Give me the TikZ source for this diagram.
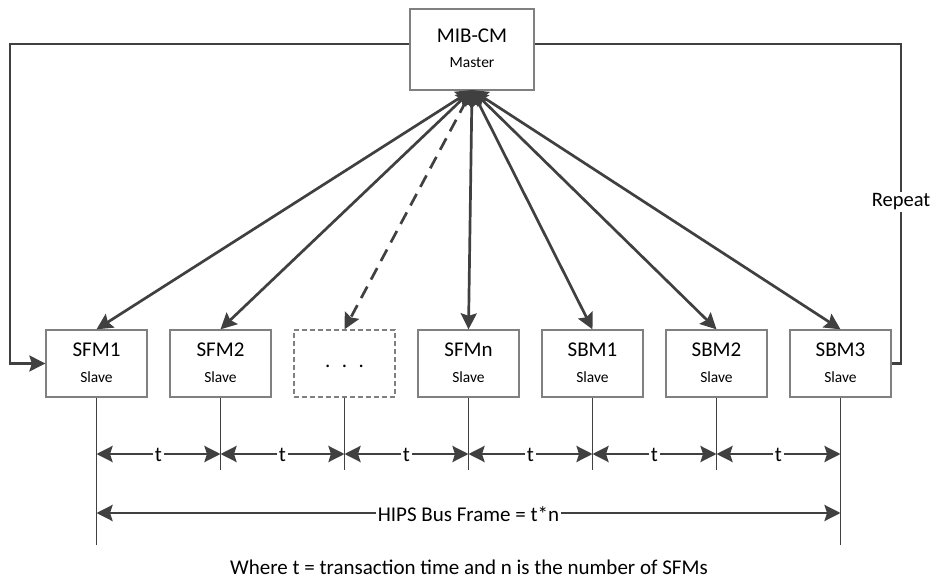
\documentclass[tikz,border=0pt]{standalone}
\usepackage{fontspec}
\setmainfont{Carlito}
\usetikzlibrary{arrows.meta}

\definecolor{linegray}{HTML}{404040}
\definecolor{boxgray}{HTML}{808080}

\tikzset{
  unitbox/.style={draw=boxgray, line width=1.3pt, fill=white,
    minimum width=101pt, minimum height=67pt, inner sep=0pt},
  dashbox/.style={unitbox, dash pattern=on 5pt off 3pt},
  bigtext/.style={font=\fontsize{21}{25}\selectfont, text=black, inner sep=0pt, anchor=base},
  smalltext/.style={font=\fontsize{15.5}{18}\selectfont, text=black, inner sep=0pt, anchor=base},
  headtip/.tip={Stealth[length=16pt, width=16pt, inset=2.5pt]},
  link/.style={draw=linegray, line width=2.7pt, headtip-headtip},
  dashlink/.style={link, dash pattern=on 13pt off 8pt},
  loop/.style={draw=linegray, line width=2.4pt},
  tick/.style={draw=linegray, line width=1.3pt},
  span/.style={draw=linegray, line width=2.7pt, headtip-headtip},
  spanlabel/.style={bigtext, fill=white, inner xsep=1.5pt, inner ysep=0pt, anchor=center},
}

% a slave unit: box with its name and role
\newcommand\unitnode[4]{%
  \node[unitbox] (#1) at (#2,363.5) {};
  \node[bigtext] (#1-name) at ([yshift=-26.7pt]#1.north) {#3};
  \node[smalltext] (#1-role) at ([yshift=-53.3pt]#1.north) {#4};}

\begin{document}
\begin{tikzpicture}[x=1pt, y=-1pt]
\useasboundingbox (0,0) rectangle (937,588);

% master controller
\node[unitbox, minimum width=124pt, minimum height=81pt] (master) at (472,49.5) {};
\node[bigtext] (master-name) at ([yshift=-34.3pt]master.north) {MIB-CM};
\node[smalltext] (master-role) at ([yshift=-59.3pt]master.north) {Master};

% slave units
\unitnode{sfm1}{96.5}{SFM1}{Slave}
\unitnode{sfm2}{220.5}{SFM2}{Slave}
\node[dashbox] (dots) at (344.5,363.5) {};
\node[bigtext, anchor=center] (dots-text) at (344.5,366) {.\hspace{0.55em}.\hspace{0.55em}.};
\unitnode{sfmn}{468.5}{SFMn}{Slave}
\unitnode{sbm1}{592.5}{SBM1}{Slave}
\unitnode{sbm2}{716.5}{SBM2}{Slave}
\unitnode{sbm3}{840.5}{SBM3}{Slave}

% master <-> slave links
\coordinate (hub) at (472,90);
\foreach \s in {sfm1,sfm2,sfmn,sbm1,sbm2,sbm3}
  \draw[link] (hub) -- (\s.north);
\draw[dashlink] (hub) -- (dots.north);

% repeat loop
\coordinate (lt) at (10,44);
\coordinate (lb) at (10,363.5);
\coordinate (rt) at (901,44);
\coordinate (rb) at (901,363.5);
\draw[loop, -{Stealth[length=16pt, width=16pt, inset=2.5pt]}]
  (master.west |- lt) -- (lt) -- (lb) -- (sfm1.west);
\draw[loop] (sbm3.east |- rb) -- (rb) -- (rt) -- (master.east |- rt);
\node[font=\fontsize{20.5}{24}\selectfont, fill=white, inner xsep=0pt, inner ysep=2pt, anchor=base]
  (repeat) at (901,207) {Repeat};

% timing ticks under each unit
\foreach \s in {sfm2,dots,sfmn,sbm1,sbm2}
  \draw[tick] (\s.south) -- (\s.south |- 0,470);
\draw[tick] (sfm1.south) -- (sfm1.south |- 0,545);
\draw[tick] (sbm3.south) -- (sbm3.south |- 0,545);

% transaction spans
\foreach \a/\b in {sfm1/sfm2, sfm2/dots, dots/sfmn, sfmn/sbm1, sbm1/sbm2, sbm2/sbm3} {
  \coordinate (\a-t) at (\a.south |- 0,454);
  \coordinate (\b-u) at (\b.south |- 0,454);
  \draw[span] (\a-t) -- node[spanlabel, yshift=-0.5pt] {t} (\b-u);
}

% full frame span
\coordinate (f1) at (sfm1.south |- 0,513);
\coordinate (f2) at (sbm3.south |- 0,513);
\draw[span] (f1) -- node[spanlabel, yshift=-1pt] {HIPS Bus Frame = t*n} (f2);

% note
\node[bigtext, anchor=base] (note) at (469,574)
  {Where t = transaction time and n is the number of SFMs};
\end{tikzpicture}
\end{document}
